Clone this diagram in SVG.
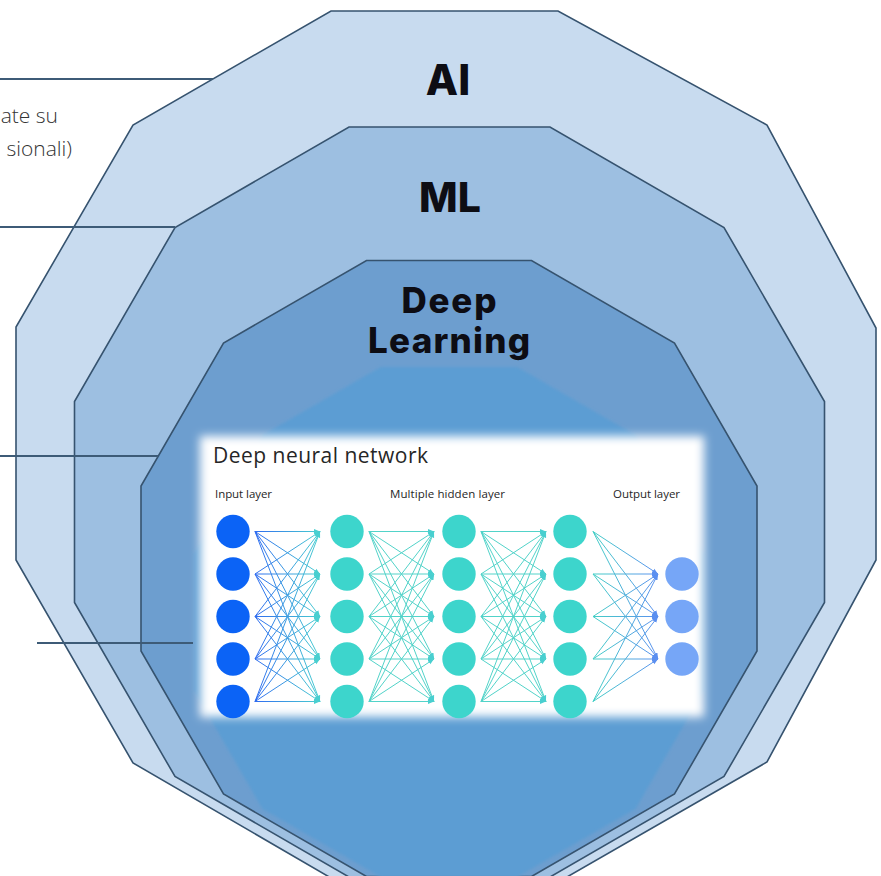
<svg xmlns="http://www.w3.org/2000/svg" width="881" height="876" viewBox="0 0 881 876">
<style>
.poly{stroke:#36536f;stroke-width:1.6;stroke-linejoin:miter}
.lead{stroke:#3d5b77;stroke-width:2;fill:none}
.lbl{font-family:Inter,"DejaVu Sans",sans-serif;font-weight:800;fill:#0d0d14;text-anchor:middle}
.side{font-family:"Open Sans","Noto Sans",sans-serif;font-weight:300;font-size:21px;fill:#333;text-anchor:end}
.nnt{font-family:"Open Sans","Noto Sans",sans-serif;fill:#262626}
.nin{fill:#0b63f6}
.nhid{fill:#3dd5cc}
.nout{fill:#76a6f7}
.bA{stroke:url(#gA);stroke-width:1;marker-end:url(#mT)}
.bT{stroke:#52d3c9;stroke-width:1;marker-end:url(#mT)}
.bD{stroke:url(#gD);stroke-width:1;marker-end:url(#mB)}
</style>
<defs>
<filter id="soft" x="-10%" y="-10%" width="120%" height="120%"><feGaussianBlur stdDeviation="5"/></filter>
<filter id="soft2" x="-5%" y="-5%" width="110%" height="110%"><feGaussianBlur stdDeviation="1.5"/></filter>
<linearGradient id="gA" gradientUnits="userSpaceOnUse" x1="0" y1="0" x2="65" y2="0"><stop offset="0" stop-color="#2f6cf0"/><stop offset="1" stop-color="#49cfd0"/></linearGradient>
<linearGradient id="gD" gradientUnits="userSpaceOnUse" x1="0" y1="0" x2="65" y2="0"><stop offset="0" stop-color="#45cfc6"/><stop offset="1" stop-color="#5b8ff0"/></linearGradient>
<marker id="mT" viewBox="0 0 6 6" refX="6" refY="3" markerWidth="6" markerHeight="6" markerUnits="userSpaceOnUse" orient="auto"><path d="M0,0.6 L6,3 L0,5.4 z" fill="#49cfd0"/></marker>
<marker id="mB" viewBox="0 0 6 6" refX="6" refY="3" markerWidth="6" markerHeight="6" markerUnits="userSpaceOnUse" orient="auto"><path d="M0,0.6 L6,3 L0,5.4 z" fill="#5b8ff0"/></marker>
<g id="b55">
<line x1="0" y1="0" x2="65" y2="0"/><line x1="0" y1="0" x2="65" y2="42.5"/><line x1="0" y1="0" x2="65" y2="85"/><line x1="0" y1="0" x2="65" y2="127.5"/><line x1="0" y1="0" x2="65" y2="170"/>
<line x1="0" y1="42.5" x2="65" y2="0"/><line x1="0" y1="42.5" x2="65" y2="42.5"/><line x1="0" y1="42.5" x2="65" y2="85"/><line x1="0" y1="42.5" x2="65" y2="127.5"/><line x1="0" y1="42.5" x2="65" y2="170"/>
<line x1="0" y1="85" x2="65" y2="0"/><line x1="0" y1="85" x2="65" y2="42.5"/><line x1="0" y1="85" x2="65" y2="85"/><line x1="0" y1="85" x2="65" y2="127.5"/><line x1="0" y1="85" x2="65" y2="170"/>
<line x1="0" y1="127.5" x2="65" y2="0"/><line x1="0" y1="127.5" x2="65" y2="42.5"/><line x1="0" y1="127.5" x2="65" y2="85"/><line x1="0" y1="127.5" x2="65" y2="127.5"/><line x1="0" y1="127.5" x2="65" y2="170"/>
<line x1="0" y1="170" x2="65" y2="0"/><line x1="0" y1="170" x2="65" y2="42.5"/><line x1="0" y1="170" x2="65" y2="85"/><line x1="0" y1="170" x2="65" y2="127.5"/><line x1="0" y1="170" x2="65" y2="170"/>
</g>
<g id="b53">
<line x1="0" y1="0" x2="65" y2="42.5"/><line x1="0" y1="0" x2="65" y2="85"/><line x1="0" y1="0" x2="65" y2="127.5"/>
<line x1="0" y1="42.5" x2="65" y2="42.5"/><line x1="0" y1="42.5" x2="65" y2="85"/><line x1="0" y1="42.5" x2="65" y2="127.5"/>
<line x1="0" y1="85" x2="65" y2="42.5"/><line x1="0" y1="85" x2="65" y2="85"/><line x1="0" y1="85" x2="65" y2="127.5"/>
<line x1="0" y1="127.5" x2="65" y2="42.5"/><line x1="0" y1="127.5" x2="65" y2="85"/><line x1="0" y1="127.5" x2="65" y2="127.5"/>
<line x1="0" y1="170" x2="65" y2="42.5"/><line x1="0" y1="170" x2="65" y2="85"/><line x1="0" y1="170" x2="65" y2="127.5"/>
</g>
</defs>
<rect width="881" height="876" fill="#ffffff"/>

<g id="ai">
<polygon class="poly" fill="#c8dbef" points="331,11 558,11 767,125 876,328 876,560 767,762 560,881 331,878 133,763 16,560 16,327 133,125"/>
<text class="lbl" x="448" y="95" font-size="42">AI</text>
</g>
<g id="ml">
<polygon class="poly" fill="#9dbfe1" points="349,127 550,127 724,227.5 824.5,401.5 824.5,602.5 724,776.5 550,877 349,877 175,776.5 74.5,602.5 74.5,401.5 175,227.5"/>
<text class="lbl" x="450" y="212" font-size="41">ML</text>
</g>
<g id="dl">
<polygon class="poly" fill="#6d9ecf" points="366.5,260.5 531.5,260.5 674.5,343 757,486 757,651 674.5,794 531.5,876.5 366.5,876.5 223.5,794 141,651 141,486 223.5,343"/>
<text class="lbl" x="449" y="313" font-size="35" textLength="95">Deep</text>
<text class="lbl" x="449" y="353" font-size="35" textLength="162">Learning</text>
</g>
<g id="dnn">
<polygon fill="#5c9dd3" filter="url(#soft2)" points="380.7,367 517.3,367 635.7,435.3 704,553.7 704,690.3 635.7,808.7 517.3,877 380.7,877 262.3,808.7 194,690.3 194,553.7 262.3,435.3"/>
<rect x="200" y="436" width="504" height="281" fill="#ffffff" filter="url(#soft)"/>
<text class="nnt" x="213" y="463" font-size="21" textLength="215">Deep neural network</text>
<text class="nnt" x="215" y="498" font-size="11.5" textLength="57">Input layer</text>
<text class="nnt" x="390" y="498" font-size="11.5" textLength="115">Multiple hidden layer</text>
<text class="nnt" x="613" y="498" font-size="11.5" textLength="67">Output layer</text>
<g id="nn-connectors">
<use href="#b55" class="bA" x="255" y="531.5"/>
<use href="#b55" class="bT" x="369" y="531.5"/>
<use href="#b55" class="bT" x="481" y="531.5"/>
<use href="#b53" class="bD" x="593" y="531.5"/>
</g>
<g id="input-layer" class="nin">
<circle cx="233" cy="531.5" r="16.7"/><circle cx="233" cy="574" r="16.7"/><circle cx="233" cy="616.5" r="16.7"/><circle cx="233" cy="659" r="16.7"/><circle cx="233" cy="701.5" r="16.7"/>
</g>
<g id="hidden-1" class="nhid">
<circle cx="347" cy="531.5" r="16.7"/><circle cx="347" cy="574" r="16.7"/><circle cx="347" cy="616.5" r="16.7"/><circle cx="347" cy="659" r="16.7"/><circle cx="347" cy="701.5" r="16.7"/>
</g>
<g id="hidden-2" class="nhid">
<circle cx="459" cy="531.5" r="16.7"/><circle cx="459" cy="574" r="16.7"/><circle cx="459" cy="616.5" r="16.7"/><circle cx="459" cy="659" r="16.7"/><circle cx="459" cy="701.5" r="16.7"/>
</g>
<g id="hidden-3" class="nhid">
<circle cx="570" cy="531.5" r="16.7"/><circle cx="570" cy="574" r="16.7"/><circle cx="570" cy="616.5" r="16.7"/><circle cx="570" cy="659" r="16.7"/><circle cx="570" cy="701.5" r="16.7"/>
</g>
<g id="output-layer" class="nout">
<circle cx="682" cy="574" r="16.7"/><circle cx="682" cy="616.5" r="16.7"/><circle cx="682" cy="659" r="16.7"/>
</g>
</g>

<g id="connectors">
<line class="lead" x1="0" y1="79" x2="213" y2="79"/>
<line class="lead" x1="0" y1="227" x2="175" y2="227"/>
<line class="lead" x1="0" y1="456" x2="158" y2="456"/>
<line class="lead" x1="37" y1="643" x2="193" y2="643"/>
</g>
<g id="side-text">
<text class="side" x="58" y="123">ate su</text>
<text class="side" x="72" y="156">sionali)</text>
</g>
</svg>
